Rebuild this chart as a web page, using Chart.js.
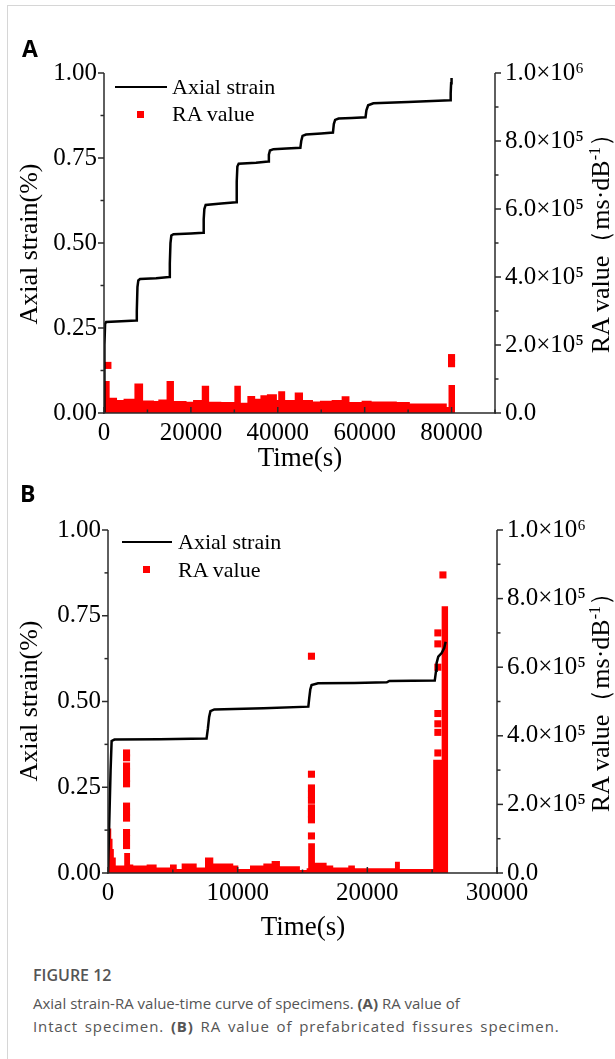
<!DOCTYPE html>
<html>
<head>
<meta charset="utf-8">
<script src="https://cdn.jsdelivr.net/npm/chart.js@4.4.1/dist/chart.umd.min.js"></script>
<style>
html,body{margin:0;padding:0;background:#fff;}
#page{position:relative;width:615px;height:1059px;overflow:hidden;font-family:'Liberation Serif','Times New Roman',serif;color:#000;}
.fl{position:absolute;left:7px;top:5px;width:1px;height:1054px;background:#d6d6d6;}
.ft{position:absolute;left:7px;top:5px;width:608px;height:1px;background:#d6d6d6;}
canvas{position:absolute;left:0;}
.t{position:absolute;white-space:nowrap;line-height:1;}
.panel{font-family:'Open Sans',sans-serif;font-weight:700;font-size:23px;}
.leg{font-size:22px;}
.rot{transform:translate(-50%,-50%) rotate(-90deg);font-size:26px;}
.ctr{transform:translate(-50%,-50%);font-size:27px;}
.sw-line{position:absolute;height:2.4px;background:#000;}
.sw-sq{position:absolute;width:7px;height:7px;background:#ff0000;}
sup{font-size:0.62em;vertical-align:0;position:relative;top:-0.55em;}
.cap{position:absolute;left:33px;font-family:'Open Sans',sans-serif;color:#555;white-space:nowrap;line-height:1.4;}
</style>
</head>
<body>
<div id="page">
  <div class="fl"></div><div class="ft"></div>
  <canvas id="cA" width="615" height="470" style="top:0;width:615px;height:470px;"></canvas>
  <canvas id="cB" width="615" height="480" style="top:470px;width:615px;height:480px;"></canvas>

  <div class="t panel" style="left:22px;top:37px;">A</div>
  <div class="sw-line" style="left:115px;top:85.8px;width:52px;"></div>
  <div class="t leg" style="left:172px;top:75.7px;">Axial strain</div>
  <div class="sw-sq" style="left:137px;top:110.5px;"></div>
  <div class="t leg" style="left:172px;top:103px;">RA value</div>
  <div class="t rot" style="left:28.5px;top:244px;">Axial strain(%)</div>
  <div class="t rot" style="left:601px;top:237px;">RA value（ms·dB<sup>-1</sup>）</div>
  <div class="t ctr" style="left:300px;top:457px;">Time(s)</div>

  <div class="t panel" style="left:20px;top:482px;">B</div>
  <div class="sw-line" style="left:122px;top:540.8px;width:50px;"></div>
  <div class="t leg" style="left:178px;top:531px;">Axial strain</div>
  <div class="sw-sq" style="left:143px;top:566px;"></div>
  <div class="t leg" style="left:178px;top:559px;">RA value</div>
  <div class="t rot" style="left:28.5px;top:701px;">Axial strain(%)</div>
  <div class="t rot" style="left:601px;top:696px;">RA value（ms·dB<sup>-1</sup>）</div>
  <div class="t ctr" style="left:303px;top:926px;">Time(s)</div>

  <div class="cap" style="top:966px;font-size:16px;font-weight:600;line-height:1.2;">FIGURE 12</div>
  <div class="cap" style="top:993px;font-size:15px;">Axial strain-RA value-time curve of specimens. <b>(A)</b> RA value of</div>
  <div class="cap" style="top:1016.3px;font-size:15px;letter-spacing:0.9px;word-spacing:2px;">Intact specimen. <b>(B)</b> RA value of prefabricated fissures specimen.</div>
</div>

<script>
// ---------- Panel A (intact specimen) ----------
const A_STRAIN_T = [0,100,250,500,4000,7400,7550,7700,7900,8300,12000,15000,15150,15300,15500,16000,20000,22800,22950,23100,23400,27000,30400,30550,30700,31000,35000,37800,37950,38200,39000,42000,45200,45400,45700,46500,50000,52700,52900,53200,54000,57000,60200,60400,60800,62000,70000,79700,79800,79900,80000];
const A_STRAIN   = [0,0.20,0.262,0.268,0.27,0.272,0.30,0.37,0.39,0.394,0.396,0.40,0.44,0.50,0.522,0.526,0.528,0.53,0.57,0.60,0.612,0.616,0.62,0.68,0.725,0.733,0.736,0.74,0.76,0.772,0.776,0.778,0.78,0.80,0.815,0.819,0.822,0.825,0.85,0.862,0.866,0.868,0.87,0.89,0.905,0.911,0.915,0.92,0.94,0.97,0.985];
// RA value envelope (dense RA markers), value holds from each time to the next
const A_RA_T = [0,1300,3000,4500,7000,9000,11500,12500,14400,16100,19000,20500,22500,24200,27000,30000,31500,33000,34800,36000,37500,39800,40100,41700,43900,45800,48100,49700,52400,54700,56500,59300,61600,67400,70400,78900,79300,80800];
const A_RA   = [94000,45000,38000,42000,87000,37000,35000,40000,94000,35000,33000,38000,80000,33000,32000,80000,30000,50000,42000,52000,55000,38000,64000,38000,60000,38000,34000,36000,38000,49000,32000,36000,34000,32000,28000,18000,82000,0];
// isolated RA markers
const A_PT_T = [900,80000,80000];
const A_PT   = [140000,163000,145000];

// ---------- Panel B (prefabricated fissures specimen) ----------
const B_STRAIN_T = [0,100,200,280,500,4000,7600,7700,7800,7900,8200,12000,15450,15520,15600,15700,16200,19000,21500,21700,25200,25300,25340,25470,25730,25930,26040];
const B_STRAIN   = [0,0.15,0.30,0.385,0.389,0.39,0.392,0.42,0.455,0.472,0.477,0.48,0.485,0.51,0.535,0.548,0.553,0.554,0.556,0.56,0.561,0.59,0.612,0.631,0.641,0.656,0.674];
const B_RA_T = [0,150,250,350,450,600,1250,1700,1950,2980,3750,4780,5300,5680,6840,7480,8120,9660,10050,10950,11980,12620,13260,14800,15320,15440,15960,16860,17370,18530,19040,22130,22510,25080,25730,26240];
const B_RA   = [143000,130000,100000,70000,45000,22000,58000,25000,22000,25000,16000,25000,12000,28000,16000,45000,28000,22000,12000,22000,28000,35000,20000,9000,14000,87000,30000,22000,16000,22000,14000,33000,12000,330000,778000,0];
const B_PT_T = [1430,1430,1430,1430,1430,1430,1430,1430,1430,1430,1430,1430,
                15690,15690,15690,15690,15690,15690,15690,15690,15690,
                25440,25440,25440,25440,25440,25440,25440,25830];
const B_PT   = [350000,336000,312000,295000,276000,260000,195000,178000,160000,118000,100000,80000,
                632000,288000,248000,230000,212000,190000,172000,155000,108000,
                700000,668000,600000,465000,435000,410000,350000,869000];

// ---------- Axes ----------
const STRAIN_TICKS = [0,0.25,0.5,0.75,1.0];
const STRAIN_MINOR = [0.125,0.375,0.625,0.875];
const RA_TICKS = [0,200000,400000,600000,800000,1000000];
const RA_MINOR = [100000,300000,500000,700000,900000];
const RA_TICK_LABELS = ['0.0','2.0×10⁵','4.0×10⁵','6.0×10⁵','8.0×10⁵','1.0×10⁶'];
const A_X_TICKS = [0,20000,40000,60000,80000];
const A_X_MINOR = [10000,30000,50000,70000,90000];
const B_X_TICKS = [0,10000,20000,30000];
const B_X_MINOR = [5000,15000,25000];

const zip = (t, v) => t.map((x, i) => ({x: x, y: v[i]}));

const axesPlugin = {
  id: 'axesDraw',
  afterDatasetsDraw(chart) {
    const o = chart.options.plugins.axesDraw;
    const {ctx, chartArea: a, scales} = chart;
    const sx = scales.x, sy = scales.y, sr = scales.y2;
    ctx.save();
    ctx.lineWidth = 1.5;
    ctx.strokeStyle = '#2a2a2a';
    const L = (x1, y1, x2, y2) => { ctx.beginPath(); ctx.moveTo(x1, y1); ctx.lineTo(x2, y2); ctx.stroke(); };
    L(a.left, a.top, a.left, a.bottom + 0.75);
    L(a.left - 0.75, a.bottom, a.right + 0.75, a.bottom);
    L(a.right, a.top, a.right, a.bottom + 0.75);
    STRAIN_TICKS.forEach(v => { const p = sy.getPixelForValue(v); L(a.left - 6, p, a.left, p); });
    STRAIN_MINOR.forEach(v => { const p = sy.getPixelForValue(v); L(a.left - 3.5, p, a.left, p); });
    RA_TICKS.forEach(v => { const p = sr.getPixelForValue(v); L(a.right, p, a.right + 6, p); });
    RA_MINOR.forEach(v => { const p = sr.getPixelForValue(v); L(a.right, p, a.right + 3.5, p); });
    o.xMajor.forEach(v => { const p = sx.getPixelForValue(v); L(p, a.bottom, p, a.bottom - 6); });
    o.xMinor.forEach(v => { const p = sx.getPixelForValue(v); L(p, a.bottom, p, a.bottom - 3.5); });
    ctx.restore();
  }
};

function makeChart(id, cfg) {
  const W = 615, H = cfg.height, area = cfg.area;
  const tickFont = {family: "'Liberation Serif','Times New Roman',serif", size: 25};
  return new Chart(document.getElementById(id), {
    type: 'line',
    data: {
      datasets: [
        {label: 'Axial strain', data: zip(cfg.st, cfg.sv), yAxisID: 'y', borderColor: '#000', borderWidth: 2.5,
         pointRadius: 0, tension: 0, fill: false, order: 0},
        {label: 'RA value markers', data: zip(cfg.pt, cfg.pv), yAxisID: 'y2', showLine: false, pointStyle: 'rect',
         pointRadius: 5, pointBackgroundColor: '#ff0000', pointBorderWidth: 0, order: 1},
        {label: 'RA value', data: zip(cfg.et, cfg.ev), yAxisID: 'y2', stepped: true, fill: 'origin',
         backgroundColor: '#ff0000', borderColor: 'rgba(0,0,0,0)', borderWidth: 0, pointRadius: 0, order: 2}
      ]
    },
    options: {
      responsive: false, animation: false, devicePixelRatio: 1,
      layout: {padding: {top: area.top, left: 0, right: 0, bottom: 0}},
      plugins: {legend: {display: false}, tooltip: {enabled: false},
                axesDraw: {xMajor: cfg.xticks, xMinor: cfg.xminor}},
      scales: {
        x: {type: 'linear', min: 0, max: cfg.xmax,
            grid: {display: false, drawTicks: false}, border: {display: false},
            ticks: {font: tickFont, color: '#000', padding: 5, maxRotation: 0, autoSkip: false,
                    callback: v => String(v)},
            afterBuildTicks: s => { s.ticks = cfg.xticks.map(v => ({value: v})); },
            afterFit: s => { s.height = H - area.bottom; }},
        y: {type: 'linear', position: 'left', min: 0, max: 1,
            grid: {display: false, drawTicks: false}, border: {display: false},
            ticks: {font: tickFont, color: '#000', padding: 7, callback: v => v.toFixed(2)},
            afterBuildTicks: s => { s.ticks = STRAIN_TICKS.map(v => ({value: v})); },
            afterFit: s => { s.width = area.left; }},
        y2: {type: 'linear', position: 'right', min: 0, max: 1000000,
            grid: {display: false, drawTicks: false}, border: {display: false},
            ticks: {font: tickFont, color: '#000', padding: 10, callback: (v, i) => RA_TICK_LABELS[i]},
            afterBuildTicks: s => { s.ticks = RA_TICKS.map(v => ({value: v})); },
            afterFit: s => { s.width = W - area.right; }}
      }
    },
    plugins: [axesPlugin]
  });
}

makeChart('cA', {height: 470, area: {left: 104, right: 495, top: 73, bottom: 413},
  st: A_STRAIN_T, sv: A_STRAIN, et: A_RA_T, ev: A_RA, pt: A_PT_T, pv: A_PT,
  xmax: 90000, xticks: A_X_TICKS, xminor: A_X_MINOR});
makeChart('cB', {height: 480, area: {left: 108, right: 497, top: 60, bottom: 403},
  st: B_STRAIN_T, sv: B_STRAIN, et: B_RA_T, ev: B_RA, pt: B_PT_T, pv: B_PT,
  xmax: 30000, xticks: B_X_TICKS, xminor: B_X_MINOR});
</script>
</body>
</html>
